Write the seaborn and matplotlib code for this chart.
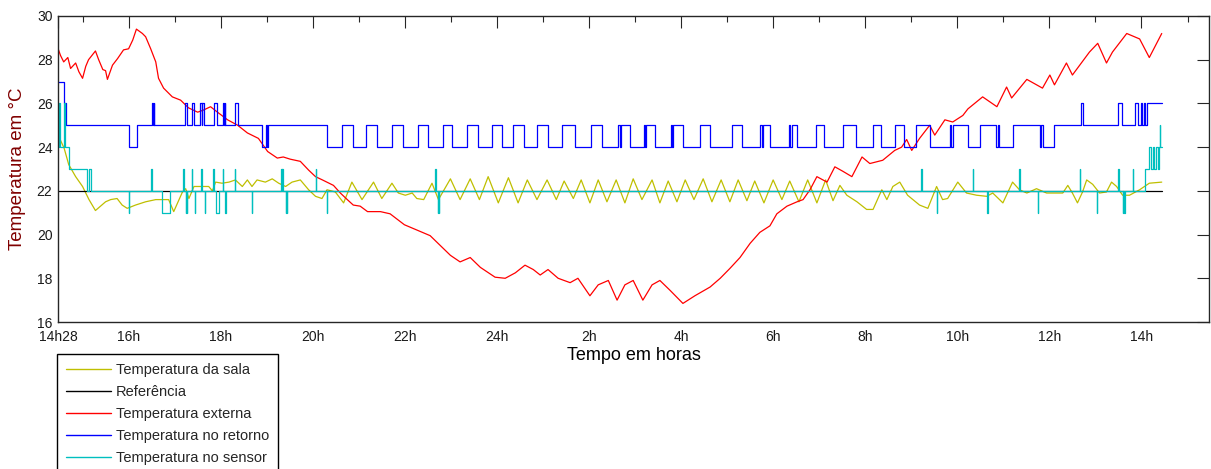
import pandas as pd
import matplotlib
matplotlib.use("Agg")
import matplotlib.pyplot as plt
import seaborn as sns

# time axis: clock hours, day 2 continues past 24 (26 = 2h next day)
START = 14 + 28 / 60
END = START + 25

x_tick_pos = [START, 16, 18, 20, 22, 24, 26, 28, 30, 32, 34, 36, 38]
x_tick_labels = ["14h28", "16h", "18h", "20h", "22h", "24h", "2h", "4h",
                 "6h", "8h", "10h", "12h", "14h"]
x_minor_pos = [15, 17, 19, 21, 23, 25, 27, 29, 31, 33, 35, 37, 39]
y_ticks = [16, 18, 20, 22, 24, 26, 28, 30]

# Temperatura da sala
room_t = [14.47, 14.60, 14.70, 14.85, 15.00, 15.14, 15.28, 15.50, 15.61, 15.75,
          15.86, 15.97, 16.15, 16.37, 16.59, 16.87, 16.98, 17.17, 17.24, 17.31,
          17.42, 17.74, 17.82, 17.89, 18.03, 18.18, 18.32, 18.47, 18.58, 18.68,
          18.79, 18.97, 19.12, 19.26, 19.41, 19.55, 19.73, 19.91, 20.06, 20.20,
          20.31, 20.49, 20.67, 20.85, 20.96, 21.07, 21.32, 21.50, 21.72, 21.86,
          22.01, 22.16, 22.26, 22.41, 22.59, 22.73, 22.99, 23.20, 23.42, 23.62,
          23.81, 24.03, 24.25, 24.46, 24.66, 24.87, 25.09, 25.29, 25.46, 25.66,
          25.83, 26.02, 26.20, 26.39, 26.59, 26.78, 26.96, 27.15, 27.37, 27.54,
          27.72, 27.91, 28.09, 28.28, 28.48, 28.67, 28.87, 29.06, 29.24, 29.43,
          29.60, 29.80, 30.00, 30.19, 30.36, 30.56, 30.75, 30.95, 31.14, 31.30,
          31.45, 31.60, 31.82, 32.03, 32.17, 32.36, 32.47, 32.60, 32.75, 32.92,
          33.18, 33.36, 33.55, 33.68, 33.79, 34.01, 34.20, 34.42, 34.64, 34.77,
          34.99, 35.20, 35.35, 35.51, 35.72, 35.94, 36.29, 36.40, 36.50, 36.61,
          36.72, 36.81, 36.94, 37.09, 37.24, 37.35, 37.46, 37.59, 37.74, 37.96,
          38.17, 38.44]
room_temp = [24.55, 23.95, 23.2, 22.65, 22.2, 21.6, 21.1, 21.5, 21.6, 21.65,
             21.35, 21.2, 21.35, 21.5, 21.6, 21.6, 21.05, 21.95, 22.1, 21.65,
             22.2, 22.2, 22.0, 22.4, 22.35, 22.4, 22.5, 22.2, 22.5, 22.2,
             22.5, 22.4, 22.55, 22.35, 22.2, 22.4, 22.5, 22.05, 21.75, 21.65,
             22.05, 21.95, 21.45, 22.4, 22.0, 21.6, 22.4, 21.65, 22.35, 21.9,
             21.8, 21.9, 21.65, 21.6, 22.35, 21.6, 22.55, 21.6, 22.55, 21.6,
             22.65, 21.45, 22.6, 21.45, 22.5, 21.6, 22.5, 21.6, 22.45, 21.65,
             22.5, 21.45, 22.5, 21.5, 22.5, 21.45, 22.55, 21.6, 22.5, 21.45,
             22.45, 21.5, 22.5, 21.6, 22.55, 21.5, 22.5, 21.5, 22.5, 21.55,
             22.45, 21.45, 22.5, 21.6, 22.45, 21.5, 22.5, 21.45, 22.5, 21.55,
             22.25, 21.8, 21.5, 21.15, 21.15, 22.05, 21.6, 22.2, 22.4, 21.8,
             21.35, 21.2, 22.2, 21.6, 21.65, 22.4, 21.9, 21.8, 21.75, 21.9,
             21.45, 22.4, 22.05, 21.9, 22.1, 21.9, 21.9, 22.25, 21.9, 21.45,
             21.95, 22.5, 22.3, 21.9, 21.95, 22.4, 22.2, 21.8, 21.8, 22.05,
             22.35, 22.4]

# Referência
ref_t = [14.47, 38.44]
ref_temp = [22, 22]

# Temperatura externa
ext_t = [14.47, 14.52, 14.59, 14.68, 14.74, 14.85, 14.92, 15.00, 15.07, 15.13,
         15.28, 15.35, 15.44, 15.50, 15.54, 15.65, 15.76, 15.89, 16.00, 16.09,
         16.17, 16.30, 16.37, 16.48, 16.59, 16.65, 16.76, 16.95, 17.13, 17.30,
         17.50, 17.63, 17.78, 17.93, 18.15, 18.37, 18.58, 18.82, 19.02, 19.23,
         19.36, 19.51, 19.73, 19.91, 20.06, 20.21, 20.45, 20.60, 20.75, 20.88,
         21.03, 21.19, 21.47, 21.68, 21.99, 22.55, 22.99, 23.20, 23.42, 23.64,
         23.96, 24.18, 24.40, 24.61, 24.79, 24.94, 25.11, 25.33, 25.59, 25.76,
         26.02, 26.20, 26.42, 26.61, 26.78, 26.96, 27.17, 27.37, 27.54, 27.76,
         28.04, 28.30, 28.63, 28.85, 29.06, 29.28, 29.50, 29.71, 29.93, 30.08,
         30.30, 30.52, 30.65, 30.80, 30.95, 31.17, 31.34, 31.51, 31.71, 31.93,
         32.10, 32.38, 32.64, 32.79, 32.90, 33.01, 33.18, 33.40, 33.51, 33.73,
         33.90, 34.12, 34.23, 34.55, 34.86, 35.07, 35.18, 35.51, 35.85, 36.01,
         36.11, 36.37, 36.50, 36.87, 37.05, 37.24, 37.37, 37.68, 37.96, 38.17,
         38.44]
ext_temp = [28.5, 28.2, 27.9, 28.1, 27.6, 27.85, 27.45, 27.15, 27.7, 28.0,
            28.4, 28.0, 27.55, 27.5, 27.1, 27.75, 28.05, 28.45, 28.5, 28.9,
            29.4, 29.2, 29.05, 28.5, 27.9, 27.15, 26.7, 26.3, 26.15, 25.8,
            25.6, 25.7, 25.85, 25.6, 25.25, 25.0, 24.65, 24.4, 23.8, 23.5,
            23.55, 23.45, 23.35, 22.95, 22.65, 22.5, 22.25, 21.9, 21.6, 21.35,
            21.3, 21.05, 21.05, 20.95, 20.45, 19.95, 19.05, 18.75, 18.95, 18.5,
            18.05, 18.0, 18.25, 18.6, 18.4, 18.15, 18.4, 18.0, 17.8, 18.0,
            17.2, 17.7, 17.9, 17.0, 17.7, 17.9, 17.0, 17.7, 17.9, 17.45,
            16.85, 17.2, 17.6, 18.0, 18.45, 18.95, 19.6, 20.1, 20.4, 20.95,
            21.3, 21.5, 21.6, 22.05, 22.65, 22.4, 23.1, 22.9, 22.65, 23.55,
            23.25, 23.4, 23.85, 24.0, 24.35, 23.85, 24.4, 25.0, 24.55, 25.25,
            25.15, 25.45, 25.75, 26.3, 25.85, 26.75, 26.25, 27.1, 26.7, 27.3,
            26.85, 27.85, 27.3, 28.35, 28.75, 27.85, 28.35, 29.2, 28.95, 28.1,
            29.2]

# Temperatura no retorno (value holds from each time until the next)
ret_t = [14.47, 14.60, 14.64, 16.01, 16.19, 16.51, 16.53, 16.545, 16.56, 17.22,
         17.27, 17.38, 17.43, 17.55, 17.59, 17.605, 17.63, 17.85, 17.92, 18.05,
         18.08, 18.09, 18.10, 18.31, 18.37, 18.90, 18.99, 19.01, 19.03, 20.32,
         20.64, 20.88, 21.16, 21.40, 21.73, 21.95, 22.29, 22.51, 22.83, 23.03,
         23.36, 23.59, 23.90, 24.11, 24.35, 24.59, 24.87, 25.11, 25.42, 25.70,
         26.04, 26.28, 26.64, 26.67, 26.70, 26.89, 27.19, 27.21, 27.23, 27.43,
         27.78, 27.80, 27.82, 28.05, 28.41, 28.63, 29.11, 29.33, 29.72, 29.75,
         29.78, 29.93, 30.34, 30.37, 30.40, 30.52, 30.93, 31.10, 31.52, 31.81,
         32.17, 32.35, 32.64, 32.84, 33.11, 33.40, 33.84, 33.87, 33.90, 34.23,
         34.49, 34.85, 34.88, 34.91, 35.21, 35.79, 35.82, 35.86, 36.09, 36.68,
         36.73, 37.50, 37.57, 37.85, 37.92, 37.99, 38.02, 38.05, 38.08, 38.12,
         38.44]
ret_temp = [27, 26, 25, 24, 25, 26, 25, 26, 25, 26,
            25, 26, 25, 26, 25, 26, 25, 26, 25, 26,
            25, 26, 25, 26, 25, 24, 25, 24, 25, 24,
            25, 24, 25, 24, 25, 24, 25, 24, 25, 24,
            25, 24, 25, 24, 25, 24, 25, 24, 25, 24,
            25, 24, 25, 24, 25, 24, 25, 24, 25, 24,
            25, 24, 25, 24, 25, 24, 25, 24, 25, 24,
            25, 24, 25, 24, 25, 24, 25, 24, 25, 24,
            25, 24, 25, 24, 25, 24, 25, 24, 25, 24,
            25, 24, 25, 24, 25, 24, 25, 24, 25, 26,
            25, 26, 25, 26, 25, 26, 25, 26, 25, 26,
            26]

# Temperatura no sensor: steps at the start and end, 22 in between,
# with short one-sample spikes
sensor_t = [14.47, 14.49, 14.50, 14.59, 14.61, 14.70, 15.10, 15.135, 15.18,
            38.07, 38.17, 38.20, 38.24, 38.28, 38.31, 38.35, 38.37, 38.40,
            38.41, 38.44]
sensor_temp = [24, 26, 24, 26, 24, 23, 22, 23, 22,
               23, 24, 23, 24, 23, 24, 23, 24, 25,
               24, 24]
sensor_up = [16.49, 16.51, 17.19, 17.38, 17.58, 17.84, 18.05, 18.31, 19.32,
             19.34, 20.06, 22.66, 33.22, 34.33, 35.35, 36.66, 37.50, 37.81]
sensor_down = [16.01, 17.24, 17.27, 17.44, 17.65, 18.10, 18.68, 19.41, 19.43,
               20.31, 22.72, 22.74, 33.55, 34.65, 35.75, 37.03, 37.60, 37.63]
sensor_low = [(16.73, 16.90), (17.89, 17.96)]


def sensor_frame():
    pts = list(zip(sensor_t, sensor_temp))
    for t in sensor_up:
        pts += [(t, 23), (t + 0.008, 22)]
    for t in sensor_down:
        pts += [(t, 21), (t + 0.008, 22)]
    for a, b in sensor_low:
        pts += [(a, 21), (b, 22)]
    pts.sort(key=lambda p: p[0])
    return pd.DataFrame(pts, columns=["t", "temp"])


sns.set_theme(style="white")
plt.rcParams["font.family"] = ["Liberation Sans", "DejaVu Sans"]

fig = plt.figure(figsize=(12.11, 4.69), dpi=100)
ax = fig.add_axes([58 / 1211, 1 - 322 / 469, 1151 / 1211, 306 / 469])

lw = 0.9
sns.lineplot(x=room_t, y=room_temp, ax=ax, color="#bfbf00", lw=lw,
             estimator=None, sort=False, label="Temperatura da sala")
sns.lineplot(x=ref_t, y=ref_temp, ax=ax, color="black", lw=lw,
             estimator=None, sort=False, label="Referência")
sns.lineplot(x=ext_t, y=ext_temp, ax=ax, color="#ff0000", lw=lw,
             estimator=None, sort=False, label="Temperatura externa")
sns.lineplot(x=ret_t, y=ret_temp, ax=ax, color="#0000ff", lw=lw,
             estimator=None, sort=False, drawstyle="steps-post",
             label="Temperatura no retorno")
sdf = sensor_frame()
sns.lineplot(data=sdf, x="t", y="temp", ax=ax, color="#00bfbf", lw=lw,
             estimator=None, sort=False, drawstyle="steps-post",
             label="Temperatura no sensor")

ax.set_xlim(START, END)
ax.set_ylim(16, 30)
ax.set_xticks(x_tick_pos)
ax.set_xticklabels(x_tick_labels)
ax.set_xticks(x_minor_pos, minor=True)
ax.set_yticks(y_ticks)

ax.tick_params(which="both", direction="in", top=True, right=True,
               color="#262626", width=0.8, labelsize=10, labelcolor="#1a1a1a")
ax.tick_params(which="major", length=8.4)
ax.tick_params(which="minor", length=4.1)
ax.tick_params(axis="x", which="major", pad=6)
ax.tick_params(axis="y", which="major", pad=4)
for sp in ax.spines.values():
    sp.set_color("#262626")
    sp.set_linewidth(1.0)

ax.set_xlabel("Tempo em horas", fontsize=13, color="black", labelpad=2)
ax.set_ylabel("Temperatura em °C", fontsize=13.5, color="#800000", labelpad=8)

handles, labels = ax.get_legend_handles_labels()
ax.get_legend().remove()
leg = fig.legend(handles, labels, loc="upper left",
                 bbox_to_anchor=(57 / 1211, 1 - 354 / 469),
                 fontsize=10.5, frameon=True, fancybox=False,
                 edgecolor="black", framealpha=1, handlelength=3.1,
                 handletextpad=0.35, labelspacing=0.56, borderpad=0.6,
                 borderaxespad=0)
leg.get_frame().set_linewidth(1.0)
for h in leg.legend_handles:
    h.set_linewidth(1.0)

fig.savefig("out.png", dpi=100)
